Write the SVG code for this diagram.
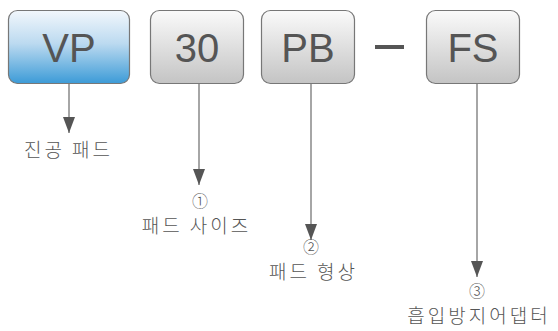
<svg xmlns="http://www.w3.org/2000/svg" width="558" height="331" viewBox="0 0 558 331">
<defs>
<linearGradient id="gGray" x1="0" y1="0" x2="0" y2="1">
<stop offset="0" stop-color="#fafafa"/>
<stop offset="1" stop-color="#c4c4c4"/>
</linearGradient>
<linearGradient id="gBlue" x1="0" y1="0" x2="0" y2="1">
<stop offset="0" stop-color="#f2f7fc"/>
<stop offset="0.45" stop-color="#bcdaf0"/>
<stop offset="1" stop-color="#3c9bd7"/>
</linearGradient>
<marker id="arr" viewBox="0 0 16 12" refX="16" refY="6" markerWidth="16" markerHeight="12" markerUnits="userSpaceOnUse" orient="auto">
<path d="M0,0 L16,6 L0,12 Z" fill="#555"/>
</marker>
</defs>
<style>
.box{stroke:#777;stroke-width:1.2}
.code{font-family:"Liberation Sans",Arial,sans-serif;font-size:40px;fill:#555;text-anchor:middle}
.lbl{font-family:"Noto Sans CJK KR","Noto Sans",sans-serif;font-size:19px;font-weight:300;fill:#555;text-anchor:middle;letter-spacing:3px}
.num{font-family:"Noto Sans CJK KR","Noto Sans",sans-serif;font-size:16px;font-weight:300;fill:#555;text-anchor:middle}
.conn{stroke:#888;stroke-width:1.5;fill:none}
</style>
<g id="node-VP">
<rect class="box" x="8.5" y="10.5" width="121" height="73" rx="9" fill="url(#gBlue)"/>
<text class="code" x="69" y="62">VP</text>
</g>
<g id="node-30">
<rect class="box" x="150.5" y="10.5" width="93" height="73" rx="9" fill="url(#gGray)"/>
<text class="code" x="197" y="62">30</text>
</g>
<g id="node-PB">
<rect class="box" x="261.5" y="10.5" width="93" height="73" rx="9" fill="url(#gGray)"/>
<text class="code" x="308" y="62">PB</text>
</g>
<g id="dash">
<rect x="375" y="45" width="29" height="4" fill="#555"/>
</g>
<g id="node-FS">
<rect class="box" x="426.5" y="10.5" width="93" height="73" rx="9" fill="url(#gGray)"/>
<text class="code" x="473" y="62">FS</text>
</g>
<g id="connectors">
<line class="conn" x1="69" y1="84" x2="69" y2="133" marker-end="url(#arr)"/>
<line class="conn" x1="199" y1="84" x2="199" y2="185" marker-end="url(#arr)"/>
<line class="conn" x1="311" y1="84" x2="311" y2="240" marker-end="url(#arr)"/>
<line class="conn" x1="477" y1="84" x2="477" y2="277" marker-end="url(#arr)"/>
</g>
<g id="label-VP">
<text class="lbl" x="68.5" y="157">진공 패드</text>
</g>
<g id="label-30">
<text class="num" x="200" y="207">①</text>
<text class="lbl" x="196.5" y="232.5">패드 사이즈</text>
</g>
<g id="label-PB">
<text class="num" x="311" y="253">②</text>
<text class="lbl" x="313.5" y="279">패드 형상</text>
</g>
<g id="label-FS">
<text class="num" x="477" y="297">③</text>
<text class="lbl" x="479" y="322.5">흡입방지어댑터</text>
</g>
</svg>
